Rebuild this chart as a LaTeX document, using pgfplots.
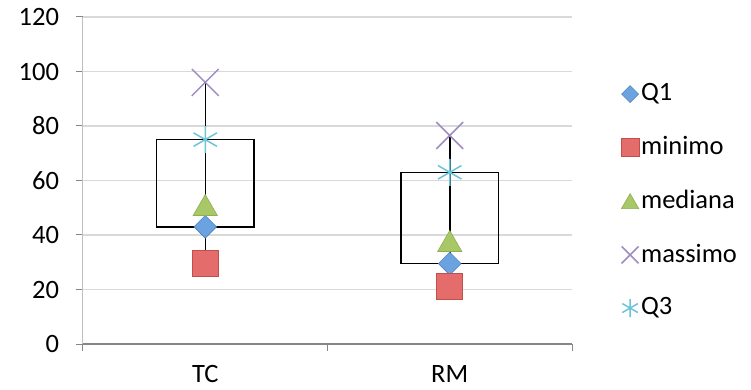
\documentclass[border=0pt]{standalone}
\usepackage{fontspec}
\setmainfont{Carlito}
\usepackage{pgfplots}
\usepackage{pgfplotstable}
\pgfplotsset{compat=1.18}

\definecolor{cQone}{HTML}{6BA3E0}
\definecolor{cQoneD}{HTML}{4F81BD}
\definecolor{cMin}{HTML}{E46C6A}
\definecolor{cMinD}{HTML}{C0504D}
\definecolor{cMed}{HTML}{A8C868}
\definecolor{cMedD}{HTML}{8EB050}
\definecolor{cMax}{HTML}{A08CC0}
\definecolor{cQthree}{HTML}{6CC4D8}
\definecolor{gridgray}{HTML}{D9D9D9}
\definecolor{yaxisgray}{HTML}{BFBFBF}
\definecolor{xaxisgray}{HTML}{868686}

% five-number summary per group
\pgfplotstableread{
x    minimo Qone mediana Qthree massimo
0.5  29.5   43   51      75     96
1.5  21     29.5 37.8    63     76.5
}\stats

\begin{document}
\fontsize{26.5}{31}\selectfont
\begin{tikzpicture}
\path[use as bounding box] (-83pt,-46pt) rectangle (668pt,344pt);
\begin{axis}[
  scale only axis,
  width=489pt, height=327pt,
  xmin=0, xmax=2, ymin=0, ymax=120,
  axis x line=bottom, axis y line=left,
  axis line style={-},
  x axis line style={draw=xaxisgray, line width=1.5pt},
  y axis line style={draw=yaxisgray, line width=1pt},
  ytick={0,20,...,120},
  xtick={0,1,2}, xticklabels={},
  extra x ticks={0.5,1.5},
  extra x tick labels={TC,RM},
  extra x tick style={major tick length=0pt, xticklabel style={yshift=-12pt}},
  tick align=outside,
  major tick length=7pt,
  tick style={draw=xaxisgray, line width=1pt},
  ymajorgrids,
  grid style={draw=gridgray, line width=1.5pt},
  /pgf/number format/assume math mode=true,
  yticklabel style={xshift=-8pt},
  legend cell align=left,
  legend style={at={(1.10,0.437)}, anchor=west, draw=none, fill=none,
    inner sep=0pt, row sep=27.5pt},
  clip=false,
]
% boxes between the quartiles
\addplot[draw=black, line width=1.5pt, forget plot] coordinates {(0.3,43) (0.7,43) (0.7,75) (0.3,75)} -- cycle;
\addplot[draw=black, line width=1.5pt, forget plot] coordinates {(1.3,29.5) (1.7,29.5) (1.7,63) (1.3,63)} -- cycle;
% whiskers from minimum to maximum
\addplot[draw=black, line width=1.5pt, forget plot] coordinates {(0.5,29.5) (0.5,96)};
\addplot[draw=black, line width=1.5pt, forget plot] coordinates {(1.5,21) (1.5,76.5)};
% markers
\addplot[only marks, mark=square*, draw=cQoneD, fill=cQone, line width=0.6pt, mark size=8pt,
  mark options={rotate=45},
  legend image post style={mark size=6pt}] table[x=x, y=Qone] {\stats};
\addlegendentry{Q1}
\addplot[only marks, mark=square*, draw=cMinD, fill=cMin, line width=0.6pt, mark size=13pt,
  legend image post style={mark size=9pt}] table[x=x, y=minimo] {\stats};
\addlegendentry{minimo}
\addplot[only marks, mark=triangle*, draw=cMedD, fill=cMed, line width=0.6pt, mark size=14pt,
  mark options={yshift=-3.5pt},
  legend image post style={mark size=10pt, mark options={yshift=-2.5pt}}] table[x=x, y=mediana] {\stats};
\addlegendentry{mediana}
\addplot[only marks, mark=x, draw=cMax, line width=1.5pt, mark size=19pt,
  legend image post style={mark size=12pt}] table[x=x, y=massimo] {\stats};
\addlegendentry{massimo}
\addplot[only marks, mark=asterisk, draw=cQthree, line width=1.5pt, mark size=13.5pt,
  legend image post style={mark size=9pt}] table[x=x, y=Qthree] {\stats};
\addlegendentry{Q3}
\end{axis}
\end{tikzpicture}
\end{document}
